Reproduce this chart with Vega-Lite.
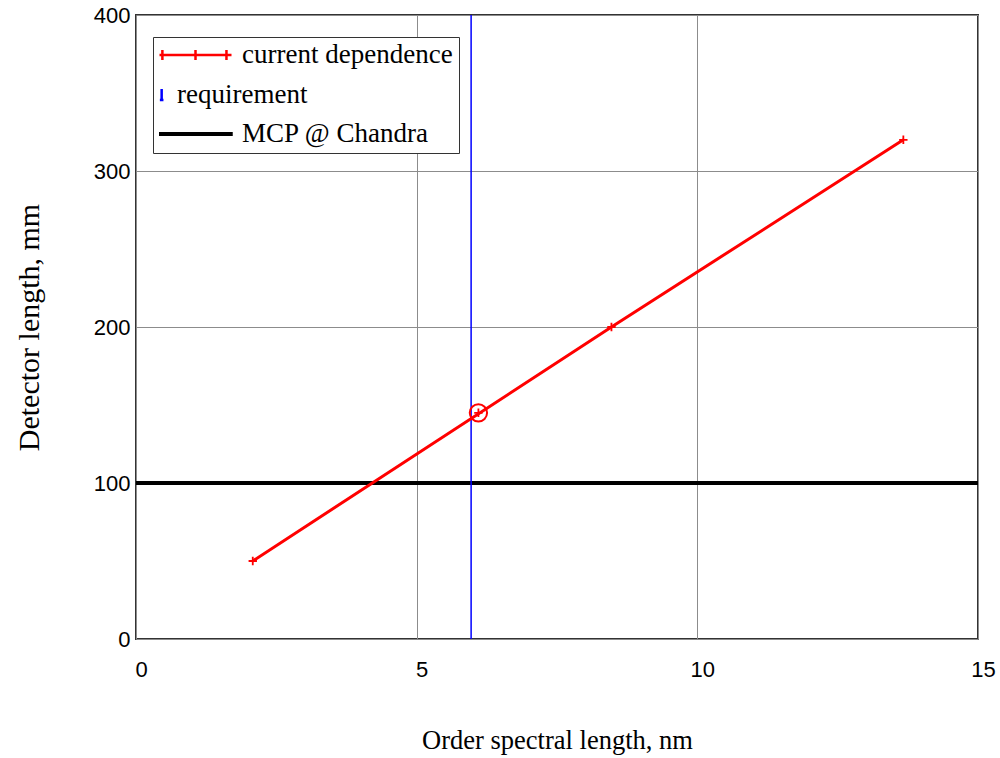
{
  "$schema": "https://vega.github.io/schema/vega-lite/v6.json",
  "width": 842,
  "height": 624,
  "autosize": {"type": "none"},
  "padding": {"left": 136, "top": 15, "right": 22, "bottom": 119},
  "background": "white",
  "config": {
    "view": {"stroke": "#333333", "strokeWidth": 2},
    "axis": {
      "grid": true,
      "gridColor": "#8c8c8c",
      "gridWidth": 1,
      "domain": false,
      "ticks": false,
      "tickSize": 0,
      "labelFont": "Liberation Sans",
      "labelFontSize": 22,
      "labelColor": "black",
      "titleFont": "Liberation Serif",
      "titleFontWeight": "normal",
      "titleColor": "black"
    }
  },
  "datasets": {
    "dep": [
      {"x": 2.08, "y": 50, "series": "current dependence"},
      {"x": 8.47, "y": 200, "series": "current dependence"},
      {"x": 13.67, "y": 320, "series": "current dependence"}
    ],
    "crosses": [
      {"x": 2.08, "y": 50},
      {"x": 6.1, "y": 145},
      {"x": 8.47, "y": 200},
      {"x": 13.67, "y": 320}
    ],
    "req": [{"x": 5.97, "series": "requirement"}],
    "mcp": [{"y": 100, "series": "MCP @ Chandra"}],
    "mark": [{"x": 6.1, "y": 145}]
  },
  "layer": [
    {
      "data": {"name": "mcp"},
      "mark": {"type": "rule", "strokeWidth": 4},
      "encoding": {
        "y": {"field": "y", "type": "quantitative", "scale": {"domain": [0, 400], "nice": false},
          "axis": {"title": "Detector length, mm", "values": [0, 100, 200, 300, 400], "format": "d", "labelFlush": false, "labelPadding": 6, "titleFontSize": 30, "titleX": -107, "titleBaseline": "middle"}},
        "color": {"field": "series", "type": "nominal",
          "scale": {"domain": ["current dependence", "requirement", "MCP @ Chandra"], "range": ["#ff0000", "#0000ff", "#000000"]},
          "legend": {
            "title": null,
            "orient": "none",
            "legendX": 17,
            "legendY": 22,
            "fillColor": "white",
            "strokeColor": "#333333",
            "padding": 6,
            "symbolSize": 5184,
            "symbolStrokeWidth": 2.5,
            "symbolOffset": -1,
            "labelOffset": 9,
            "labelFont": "Liberation Serif",
            "labelFontSize": 27,
            "labelColor": "black",
            "labelLimit": 400,
            "clipHeight": 24,
            "rowPadding": 12.5,
            "symbolFillColor": "transparent",
            "encode": {
              "symbols": {"update": {
                "shape": {"signal": "datum.value === 'current dependence' ? 'M-1,0L1,0M-0.92,-0.14L-0.92,0.14M0,-0.14L0,0.14M0.86,-0.14L0.86,0.14' : datum.value === 'requirement' ? 'M-0.94,-0.15L-0.94,0.15M-0.99,0.15L-0.89,0.15' : 'M-1,-0.02L1,-0.02L1,0.02L-1,0.02Z'"},
                "fill": {"signal": "datum.value === 'MCP @ Chandra' ? '#000000' : 'transparent'"}
              }},
              "labels": {"update": {
                "dx": {"signal": "datum.value === 'requirement' ? -65 : 0"}
              }}
            }
          }}
      }
    },
    {
      "data": {"name": "req"},
      "mark": {"type": "rule", "strokeWidth": 1.5},
      "encoding": {
        "x": {"field": "x", "type": "quantitative", "scale": {"domain": [0, 15], "nice": false},
          "axis": {"title": "Order spectral length, nm", "values": [0, 5, 10, 15], "format": "d", "labelFlush": false, "labelPadding": 20, "labelOffset": 5, "titleFontSize": 26.5, "titleY": 109, "titleBaseline": "alphabetic"}},
        "color": {"field": "series", "type": "nominal"}
      }
    },
    {
      "data": {"name": "dep"},
      "mark": {"type": "line", "strokeWidth": 3},
      "encoding": {
        "x": {"field": "x", "type": "quantitative"},
        "y": {"field": "y", "type": "quantitative"},
        "color": {"field": "series", "type": "nominal"}
      }
    },
    {
      "data": {"name": "crosses"},
      "mark": {"type": "point", "shape": "M-1,0L1,0M0,-1L0,1", "size": 70, "strokeWidth": 1.8, "filled": false, "color": "#ff0000", "opacity": 1},
      "encoding": {
        "x": {"field": "x", "type": "quantitative"},
        "y": {"field": "y", "type": "quantitative"}
      }
    },
    {
      "data": {"name": "mark"},
      "mark": {"type": "point", "shape": "circle", "size": 300, "strokeWidth": 2, "filled": false, "color": "#ff0000", "opacity": 1},
      "encoding": {
        "x": {"field": "x", "type": "quantitative"},
        "y": {"field": "y", "type": "quantitative"}
      }
    }
  ]
}
